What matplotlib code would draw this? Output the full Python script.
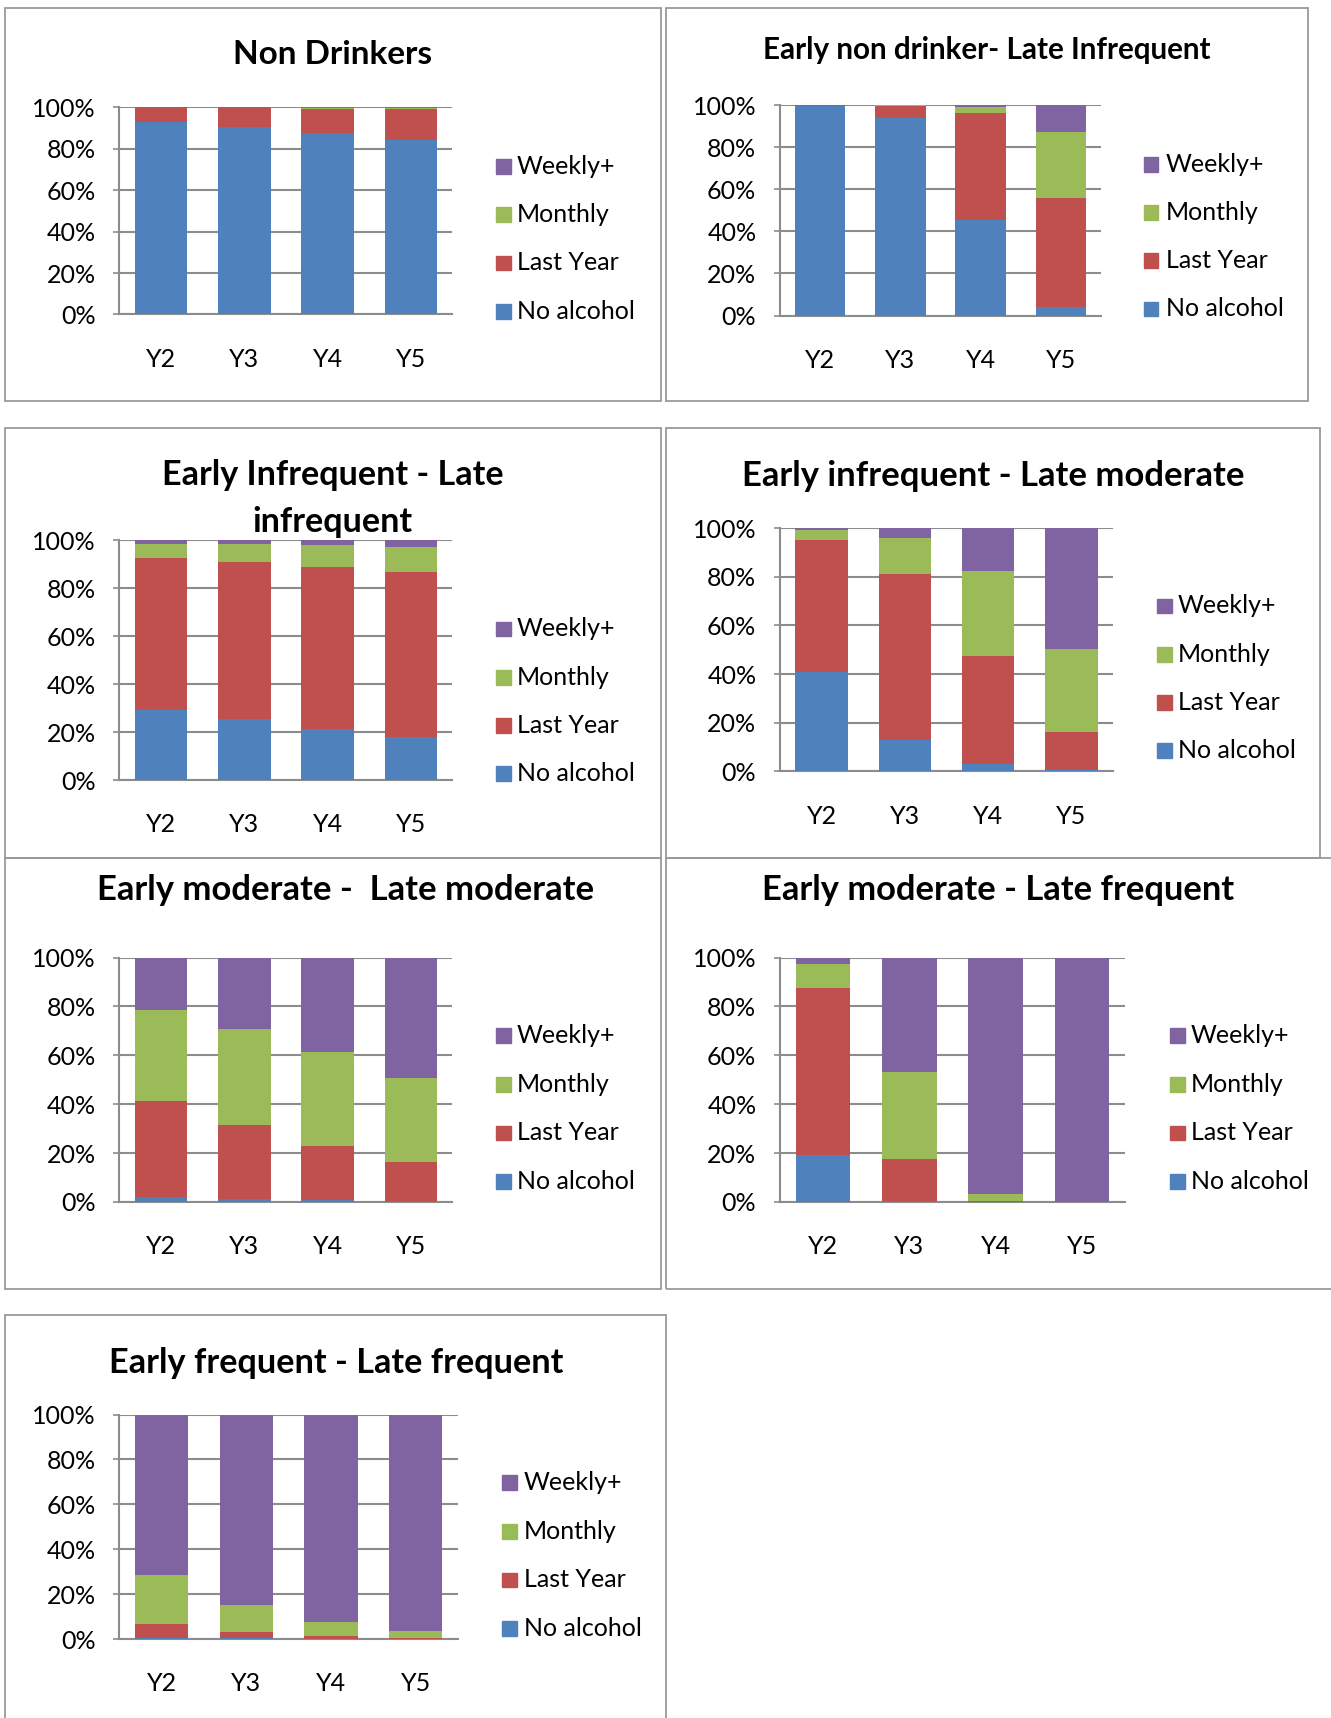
import matplotlib
matplotlib.use("Agg")
import matplotlib.pyplot as plt
from matplotlib.patches import Rectangle
import numpy as np

plt.rcParams['font.family'] = ['Lato', 'DejaVu Sans']

categories = ['Y2', 'Y3', 'Y4', 'Y5']
series_names = ['No alcohol', 'Last Year', 'Monthly', 'Weekly+']
series_colors = ['#4F81BD', '#C0504D', '#9BBB59', '#8064A2']
y_ticks = [0, 20, 40, 60, 80, 100]
y_tick_labels = ['0%', '20%', '40%', '60%', '80%', '100%']

# values per panel: rows = series (No alcohol, Last Year, Monthly, Weekly+), cols = Y2..Y5 (percent)
non_drinkers = [[92.8, 90.4, 87.5, 84.3],
                [6.9, 9.1, 11.5, 14.7],
                [0.2, 0.2, 0.6, 0.6],
                [0.1, 0.3, 0.4, 0.4]]
early_non_late_infrequent = [[99.6, 94.1, 45.6, 4.0],
                             [0.4, 5.6, 50.7, 51.9],
                             [0.0, 0.3, 2.9, 31.2],
                             [0.0, 0.0, 0.8, 12.9]]
early_infrequent_late_infrequent = [[29.4, 25.3, 21.4, 17.9],
                                    [63.2, 65.4, 67.5, 68.9],
                                    [6.0, 7.6, 8.9, 10.4],
                                    [1.4, 1.7, 2.2, 2.8]]
early_infrequent_late_moderate = [[40.7, 12.7, 3.0, 0.5],
                                  [54.4, 68.3, 44.5, 15.5],
                                  [4.1, 14.8, 35.0, 34.1],
                                  [0.8, 4.2, 17.5, 49.9]]
early_moderate_late_moderate = [[2.2, 1.4, 0.7, 0.4],
                                [39.2, 30.2, 22.3, 15.9],
                                [37.3, 39.3, 38.2, 34.4],
                                [21.3, 29.1, 38.8, 49.3]]
early_moderate_late_frequent = [[19.3, 0.4, 0.0, 0.0],
                                [68.4, 17.2, 0.4, 0.0],
                                [9.7, 35.5, 2.7, 0.0],
                                [2.6, 46.9, 96.9, 100.0]]
early_frequent_late_frequent = [[0.4, 0.3, 0.2, 0.1],
                                [6.4, 2.8, 1.1, 0.5],
                                [21.6, 12.1, 6.4, 3.0],
                                [71.6, 84.8, 92.3, 96.4]]

titles = ['Non Drinkers',
          'Early non drinker- Late Infrequent',
          'Early Infrequent - Late\ninfrequent',
          'Early infrequent - Late moderate',
          'Early moderate -  Late moderate',
          'Early moderate - Late frequent',
          'Early frequent - Late frequent']
panel_data = [non_drinkers, early_non_late_infrequent, early_infrequent_late_infrequent,
              early_infrequent_late_moderate, early_moderate_late_moderate,
              early_moderate_late_frequent, early_frequent_late_frequent]

W, H = 1215.0, 1568.0
def fx(x):
    return x / W
def fy(y):
    return 1 - y / H

# layout (reference pixel coordinates)
axes_boxes = [(109, 98, 413, 287), (712, 96, 1005, 288), (109, 493, 413, 712),
              (712, 482, 1016, 704), (109, 874, 413, 1097), (712, 874, 1027, 1097),
              (109, 1291, 418, 1496)]
frames = [(5, 7, 603, 366), (608, 7, 1194, 366), (5, 391, 603, 783),
          (608, 391, 1205, 783), (5, 783, 603, 1176), (608, 783, 1240, 1176),
          (5, 1200, 608, 1600)]
title_pos = [(304, 50, 24, 1.2), (901, 46, 21.3, 1.2), (303.5, 455, 24.6, 1.6),
             (906.5, 434, 24.9, 1.2), (315.5, 812, 24.9, 1.2), (911, 812, 24.8, 1.2),
             (306.5, 1244, 24.7, 1.2)]
legend_pos = [(453, 472, [152, 196, 240, 284]), (1044, 1064, [150, 194, 238, 282]),
              (453, 472, [574, 618, 662, 706]), (1056, 1075, [553, 597, 641, 685]),
              (453, 472, [945, 990, 1034, 1078]), (1068, 1087, [945, 990, 1034, 1078]),
              (458, 478, [1353, 1398, 1442, 1486])]

fig = plt.figure(figsize=(13.31, 17.18), dpi=100)
grid_c = '#8c8c8c'

for i in range(7):
    fl, ft, fr, fb = frames[i]
    fig.patches.append(Rectangle((fx(fl), fy(fb)), fx(fr) - fx(fl), fy(ft) - fy(fb),
                                 transform=fig.transFigure, fill=False,
                                 edgecolor='#9a9a9a', lw=1.3))
    l, t, r, b = axes_boxes[i]
    ax = fig.add_axes([fx(l), fy(b), fx(r) - fx(l), fy(t) - fy(b)])
    data = np.array(panel_data[i], dtype=float)
    x = np.arange(len(categories))
    bottom = np.zeros(len(categories))
    for s in range(4):
        ax.bar(x, data[s], 0.63, bottom=bottom, color=series_colors[s],
               edgecolor='none', zorder=3, label=series_names[s])
        bottom += data[s]
    ax.set_xlim(-0.5, 3.5)
    ax.set_ylim(0, 100)
    ax.set_yticks(y_ticks)
    ax.set_yticklabels(y_tick_labels, fontsize=18)
    ax.set_xticks(x)
    ax.set_xticklabels(categories, fontsize=18)
    ax.yaxis.grid(True, color=grid_c, lw=1.5, zorder=0)
    ax.set_axisbelow(True)
    for sp in ['top', 'right']:
        ax.spines[sp].set_visible(False)
    for sp in ['left', 'bottom']:
        ax.spines[sp].set_color(grid_c)
        ax.spines[sp].set_linewidth(1.5)
    ax.tick_params(axis='y', length=4, color=grid_c, width=1.2, pad=13)
    ax.tick_params(axis='x', length=0, pad=24)

    cx, cy, fs, lsp = title_pos[i]
    fig.text(fx(cx), fy(cy), titles[i], ha='center', va='center',
             fontsize=fs, fontweight='bold', linespacing=lsp)

    sqx, tx, ys = legend_pos[i]
    names_top_down = series_names[::-1]
    cols_top_down = series_colors[::-1]
    for k in range(4):
        sz = 13.5
        fig.patches.append(Rectangle((fx(sqx), fy(ys[k] + sz / 2)), fx(sz), fy(0) - fy(sz),
                                     transform=fig.transFigure, color=cols_top_down[k]))
        fig.text(fx(tx), fy(ys[k]), names_top_down[k], ha='left', va='center', fontsize=18)

fig.savefig('out.png', dpi=100, facecolor='white')
